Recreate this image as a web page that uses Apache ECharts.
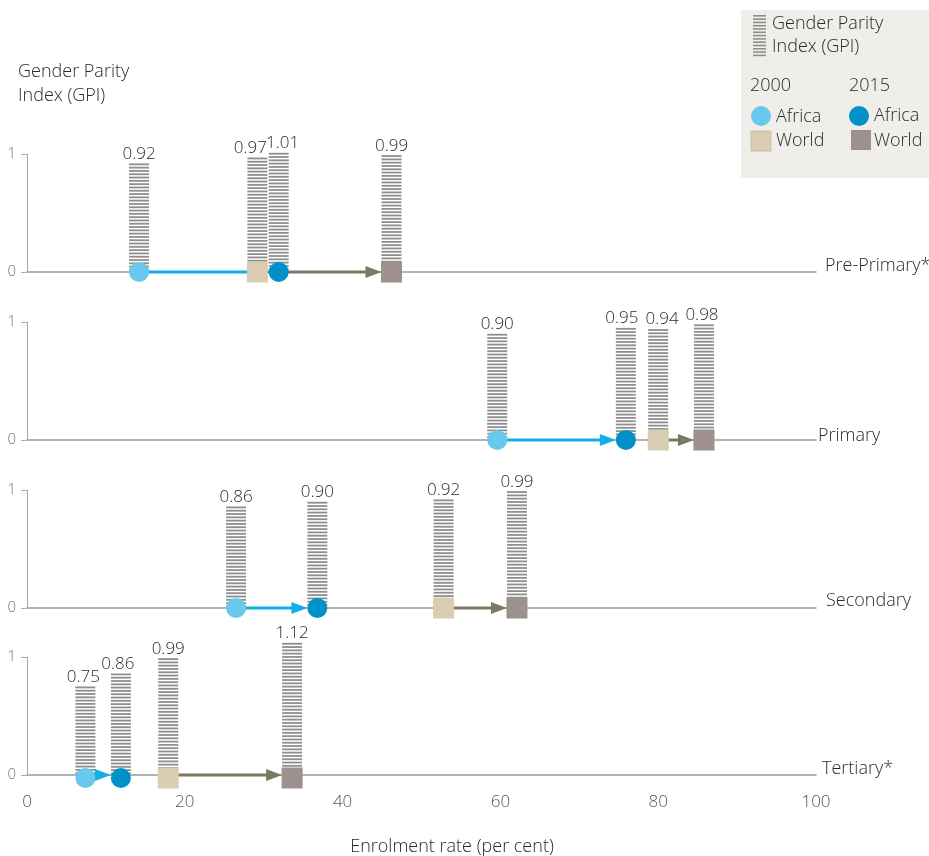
<!DOCTYPE html>
<html><head><meta charset="utf-8">
<script src="https://cdn.jsdelivr.net/npm/echarts@6/dist/echarts.min.js"></script>
<style>html,body{margin:0;padding:0;background:#fff}#c{width:929px;height:856px}</style>
</head><body><div id="c"></div>
<script>
// ---- data ----
const levels = ['Pre-Primary*', 'Primary', 'Secondary', 'Tertiary*'];
const africa2000Rate = [14.2, 59.6, 26.5, 7.4];
const africa2015Rate = [31.9, 75.9, 36.8, 11.9];
const world2000Rate  = [29.2, 80.0, 52.8, 17.9];
const world2015Rate  = [46.2, 85.8, 62.1, 33.6];
const africa2000GPI = [0.92, 0.90, 0.86, 0.75];
const africa2015GPI = [1.01, 0.95, 0.90, 0.86];
const world2000GPI  = [0.97, 0.94, 0.92, 0.99];
const world2015GPI  = [0.99, 0.98, 0.99, 1.12];
const xTicks = [0, 20, 40, 60, 80, 100];
const yTicks = [0, 1];

// ---- styles ----
const FONT = '"Open Sans", Roboto, sans-serif';
const FW = '300 ';
const TXT = '#2a2a2a';
const COL = { a2000: '#68c8ee', a2015: '#0091c9', w2000: '#d9cdb3', w2015: '#9c918e',
              arrowA: '#14aee9', arrowW: '#7c7962', stripe: '#8e8e8e', axis: '#9a9a9a' };
const zeroY = [272, 440, 608, 775];
const panelH = 118;
const labelDx = [[0, 4, -7, 0], [0, -4, 4, -2], [0, 0, 0, 0], [-2, -3, 0, 0]];
const rowLabelX = [825, 818, 826, 822];
const rowLabelDy = [-6, -4, -7, -6];

const rates = [africa2000Rate, africa2015Rate, world2000Rate, world2015Rate];
const gpis = [africa2000GPI, africa2015GPI, world2000GPI, world2015GPI];
const markerStyle = [
  { symbol: 'circle', color: COL.a2000 },
  { symbol: 'circle', color: COL.a2015 },
  { symbol: 'rect', color: COL.w2000 },
  { symbol: 'rect', color: COL.w2015 }
];

const grids = [], xAxes = [], yAxes = [], series = [];
levels.forEach((lv, p) => {
  grids.push({ left: 27, right: 113, top: zeroY[p] - panelH, height: panelH });
  const last = p === levels.length - 1;
  xAxes.push({
    gridIndex: p, type: 'value', min: xTicks[0], max: xTicks[xTicks.length - 1], interval: xTicks[1] - xTicks[0],
    axisLine: { show: true, onZero: true, lineStyle: { color: COL.axis, width: 1.5 } },
    axisTick: { show: false }, splitLine: { show: false },
    axisLabel: { show: last, margin: 19, color: '#555', fontSize: 17, fontWeight: 300, fontFamily: FONT }
  });
  yAxes.push({
    gridIndex: p, type: 'value', min: yTicks[0], max: yTicks[1], interval: yTicks[1] - yTicks[0],
    axisLine: { show: true, lineStyle: { color: '#aaa', width: 1 } },
    axisTick: { show: true, length: 6, lineStyle: { color: '#aaa' } },
    splitLine: { show: false },
    axisLabel: { color: '#777', fontSize: 15, fontWeight: 300, fontFamily: FONT, margin: 11 }
  });

  // GPI hatched bars
  const barData = rates.map((r, t) => [r[p], gpis[t][p], t]);
  series.push({
    type: 'custom', xAxisIndex: p, yAxisIndex: p, z: 2, clip: false,
    data: barData,
    renderItem: function (params, api) {
      const x = api.value(0), g = api.value(1), t = api.value(2);
      const base = api.coord([x, 0]);
      const top = api.coord([x, g]);
      const w = 20;
      const children = [];
      for (let y = top[1]; y < base[1] - 1; y += 3.3) {
        children.push({ type: 'rect', shape: { x: base[0] - w / 2, y: y, width: w, height: 1.8 }, style: { fill: COL.stripe } });
      }
      children.push({ type: 'text', x: base[0] + labelDx[p][t], y: top[1] - 1,
        style: { text: g.toFixed(2), fill: TXT, font: FW + '17px ' + FONT, align: 'center', verticalAlign: 'bottom' } });
      return { type: 'group', children };
    }
  });

  // arrows
  const arrowData = [[africa2000Rate[p], africa2015Rate[p], 0], [world2000Rate[p], world2015Rate[p], 1]];
  series.push({
    type: 'custom', xAxisIndex: p, yAxisIndex: p, z: 3, clip: false,
    data: arrowData,
    renderItem: function (params, api) {
      const p1 = api.coord([api.value(0), 0]);
      const p2 = api.coord([api.value(1), 0]);
      const col = api.value(2) === 0 ? COL.arrowA : COL.arrowW;
      const tip = p2[0] - 10, y = p1[1];
      const hl = 16, hw = 6;
      return { type: 'group', children: [
        { type: 'line', shape: { x1: p1[0], y1: y, x2: tip - hl + 2, y2: y }, style: { stroke: col, lineWidth: 3 } },
        { type: 'polygon', shape: { points: [[tip - hl, y - hw], [tip, y], [tip - hl, y + hw]] }, style: { fill: col } }
      ] };
    }
  });

  // markers
  markerStyle.forEach((m, t) => {
    series.push({
      type: 'scatter', xAxisIndex: p, yAxisIndex: p, z: 4, silent: true,
      symbol: m.symbol, symbolSize: m.symbol === 'rect' ? 21 : 20,
      symbolOffset: [0, p === 3 ? 3 : 0],
      itemStyle: { color: m.color, opacity: 1 },
      data: [[rates[t][p], 0]]
    });
  });
});

// ---- graphics: titles, row labels, legend ----
const T = (s, x, y, extra) => Object.assign({ type: 'text', x: x, y: y,
  style: Object.assign({ text: s, fill: TXT, font: FW + '18px ' + FONT, verticalAlign: 'middle' }, extra || {}) });
const graphic = [
  T('Gender Parity', 18, 72),
  T('Index (GPI)', 18, 96),
  T('Enrolment rate (per cent)', 452, 847, { align: 'center' })
];
levels.forEach((lv, p) => {
  graphic.push(T(lv, rowLabelX[p], zeroY[p] + rowLabelDy[p], { align: 'left' }));
});
// legend box
const lg = [];
lg.push({ type: 'rect', shape: { x: 741, y: 10, width: 188, height: 168 }, style: { fill: '#efeeea' } });
for (let y = 15; y < 55; y += 3.3) {
  lg.push({ type: 'rect', shape: { x: 753, y: y, width: 13, height: 1.6 }, style: { fill: COL.stripe } });
}
lg.push(T('Gender Parity', 772, 24));
lg.push(T('Index (GPI)', 772, 47));
lg.push(T('2000', 750, 86));
lg.push(T('2015', 849, 86));
lg.push({ type: 'circle', shape: { cx: 761, cy: 116, r: 10 }, style: { fill: COL.a2000 } });
lg.push({ type: 'circle', shape: { cx: 859, cy: 116, r: 10 }, style: { fill: COL.a2015 } });
lg.push({ type: 'rect', shape: { x: 751, y: 131, width: 20, height: 20 }, style: { fill: COL.w2000, stroke: '#cbbfa3', lineWidth: 1 } });
lg.push({ type: 'rect', shape: { x: 851, y: 130, width: 20, height: 20 }, style: { fill: COL.w2015 } });
lg.push(T('Africa', 776, 117));
lg.push(T('Africa', 874, 116));
lg.push(T('World', 776, 141));
lg.push(T('World', 874, 141));
graphic.push({ type: 'group', children: lg });

const chart = echarts.init(document.getElementById('c'), null, { renderer: 'canvas' });
chart.setOption({
  animation: false,
  backgroundColor: '#fff',
  textStyle: { fontFamily: FONT },
  grid: grids, xAxis: xAxes, yAxis: yAxes, series: series, graphic: graphic
});
</script></body></html>
